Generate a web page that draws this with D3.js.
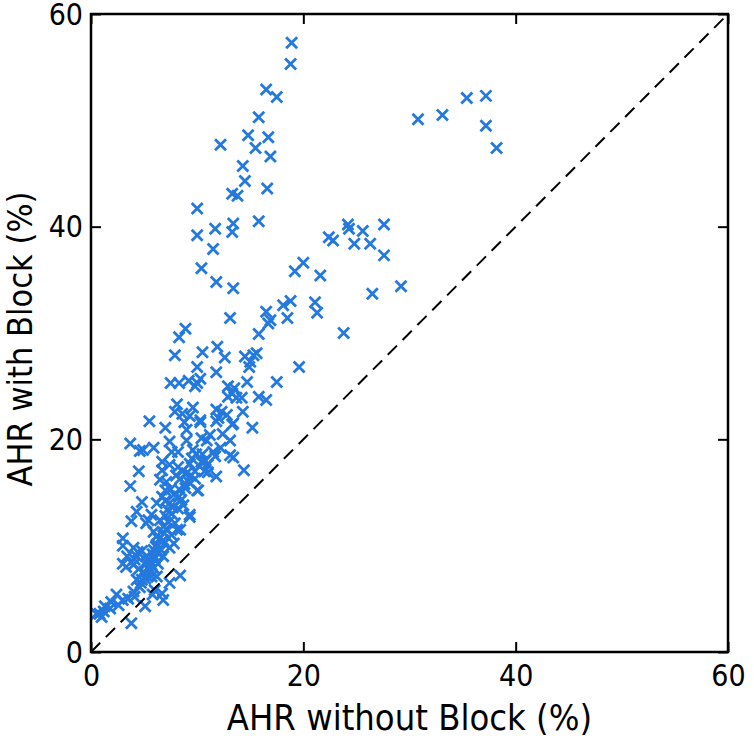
<!DOCTYPE html>
<html>
<head>
<meta charset="utf-8">
<script src="https://cdn.jsdelivr.net/npm/d3@7"></script>
<style>
  body { margin: 0; background: #fff; }
  text { font-family: "Liberation Sans Narrow", "DejaVu Sans Condensed", "Liberation Sans", sans-serif; fill: #000; }
</style>
</head>
<body>
<div id="container"></div>
<script>
// AHR without block (x) vs AHR with block (y), percent
var ahrWithout = [
  18.9, 18.8, 16.5, 17.5, 15.8, 14.8, 16.7, 12.2, 15.5, 16.9, 14.3, 14.5, 13.3, 13.8, 16.6, 10.0, 11.7, 13.4, 13.3, 15.8,
  10.0, 11.5, 10.4, 11.8, 13.4,
  30.8, 33.1, 35.4, 37.2, 37.2, 38.2,
  24.2, 24.3, 27.6, 25.6, 22.4, 22.8, 24.8, 26.3, 27.6, 20.0, 19.2, 21.6, 29.2, 26.5, 18.8, 18.1, 21.1, 21.3, 18.5,
  23.8, 16.5, 16.9, 16.7, 15.8, 13.1, 8.9, 8.3, 7.9, 10.5, 11.9, 12.6, 14.5, 15.3, 15.6, 15.0, 14.9, 19.6, 10.0, 11.8,
  7.5, 8.3, 9.2, 10.0, 9.8, 10.3, 14.7, 17.5, 12.9, 13.5, 13.3, 12.9, 13.7, 14.2, 15.8, 16.5, 8.1, 7.9, 9.6, 8.6,
  9.3, 10.3, 11.8, 12.3, 12.8, 12.0, 14.3, 13.4, 5.5, 7.0, 9.0, 15.2, 8.8, 10.3, 11.8, 13.3,
  3.7, 4.6, 5.9, 7.4, 9.0, 10.4, 10.9, 13.1, 8.2, 9.6, 11.5, 12.2, 11.7, 13.1, 13.4, 7.4, 8.2, 9.3, 10.4, 11.0,
  6.7, 4.5, 14.4, 11.8, 3.7, 6.5, 7.1, 8.4, 9.2, 8.9, 10.0, 7.0, 6.7, 4.8, 6.2, 7.4, 8.2, 4.3, 5.7, 7.6,
  9.3, 3.8, 5.2, 6.5, 7.9, 8.4, 7.1, 5.9, 7.6, 3.0, 3.0, 6.8, 6.2, 7.4, 4.0, 4.8, 3.4, 4.3, 6.3, 6.8,
  3.0, 4.0, 5.4, 5.9, 6.3, 4.9, 4.3, 5.1, 5.7, 8.4, 4.6, 4.0, 3.5, 3.0, 2.4, 1.9, 1.3, 0.8, 1.2, 1.0,
  0.5, 1.8, 2.6, 6.0, 7.4, 6.7, 6.8, 5.1, 3.8, 6.2, 6.1, 6.9, 4.4, 3.3, 4.1, 5.8, 4.1, 4.7, 5.3, 5.0,
  6.7, 7.6, 4.9, 10.7, 8.4, 5.4, 6.8, 8.1, 7.8, 5.9, 9.3, 10.1, 7.8, 8.5, 9.0, 8.0, 9.8, 10.5, 9.5, 7.2,
  7.0, 6.2, 6.6, 5.5, 5.2, 5.7, 7.0, 8.7, 9.8, 11.0,
  4.5, 5.3, 5.8, 6.4, 6.9, 7.3, 7.7, 8.3, 8.8, 9.4, 6.0, 5.6, 4.8, 7.5, 8.6, 9.9, 10.8, 12.4, 11.2
];
var ahrWith = [
  57.3, 55.3, 52.9, 52.2, 50.3, 48.6, 48.4, 47.7, 47.4, 46.6, 45.7, 44.3, 43.1, 42.9, 43.6, 41.7, 39.8, 40.3, 39.5, 40.5,
  39.2, 37.9, 36.1, 34.8, 34.2,
  50.1, 50.5, 52.1, 52.3, 49.5, 47.4,
  40.2, 39.8, 40.2, 39.6, 39.0, 38.7, 38.4, 38.4, 37.3, 36.6, 35.8, 35.4, 34.4, 33.7, 33.0, 32.6, 32.9, 31.9, 31.4,
  30.0, 32.0, 31.2, 30.9, 29.9, 31.4, 30.4, 29.6, 27.9, 28.2, 28.7, 27.7, 27.8, 27.9, 28.1, 27.3, 26.8, 26.8, 26.8, 26.3,
  25.3, 25.3, 25.5, 25.3, 25.0, 25.7, 25.4, 25.4, 25.0, 24.8, 24.3, 24.0, 23.9, 23.9, 24.0, 23.7, 23.3, 22.6, 23.0, 22.4,
  22.2, 21.8, 22.8, 22.6, 22.3, 22.0, 22.6, 21.5, 21.7, 21.1, 20.9, 21.1, 21.6, 21.6, 21.7, 21.4,
  19.6, 18.9, 19.2, 19.8, 19.9, 20.1, 19.9, 19.9, 18.8, 19.0, 18.8, 19.2, 18.4, 18.5, 18.3, 17.6, 17.4, 17.7, 17.9, 17.6,
  17.1, 17.0, 17.1, 16.5, 15.6, 16.2, 16.0, 16.3, 16.0, 15.4, 15.2, 15.2, 14.6, 14.1, 14.0, 14.0, 13.5, 13.2, 12.9, 13.0,
  12.7, 12.3, 12.1, 12.4, 12.1, 11.5, 11.6, 11.3, 11.0, 10.7, 10.0, 10.5, 10.1, 9.8, 9.8, 9.5, 9.0, 9.0, 9.3, 9.0,
  8.3, 8.2, 8.0, 7.9, 8.3, 7.4, 6.8, 6.9, 7.1, 7.2, 6.1, 5.7, 5.0, 4.9, 5.4, 4.7, 4.3, 3.6, 3.8, 3.3,
  3.6, 4.1, 4.4, 5.8, 6.5, 5.5, 4.9, 4.3, 2.7, 7.1, 9.9, 10.2, 9.4, 8.0, 8.7, 5.4, 5.2, 6.5, 7.1, 7.5,
  17.9, 18.8, 19.0, 17.0, 15.2, 12.4, 11.8, 11.5, 10.2, 9.6, 12.9, 15.2, 14.8, 14.3, 16.8, 16.6, 17.0, 18.6, 18.2, 13.4,
  12.8, 10.9, 9.6, 8.6, 9.0, 8.2, 14.2, 13.8, 16.3, 16.9,
  7.8, 8.4, 9.2, 10.6, 11.2, 12.2, 13.6, 14.6, 15.8, 16.6, 8.8, 7.6, 6.8, 15.3, 17.0, 18.6, 18.0, 20.5, 20.4
];
var tickValues = [0, 20, 40, 60];
var xLabel = "AHR without Block (%)";
var yLabel = "AHR with Block (%)";

var points = ahrWithout.map(function(d, i) { return { x: d, y: ahrWith[i] }; });

var width = 754, height = 743;
var margin = { top: 14, right: 26, bottom: 91, left: 91 };
var innerW = width - margin.left - margin.right;
var innerH = height - margin.top - margin.bottom;

var svg = d3.select('#container').append('svg')
  .attr('width', width)
  .attr('height', height);

var g = svg.append('g')
  .attr('transform', 'translate(' + margin.left + ',' + margin.top + ')');

var x = d3.scaleLinear().domain([0, 60]).range([0, innerW]);
var y = d3.scaleLinear().domain([0, 60]).range([innerH, 0]);

// markers
var blue = '#2479de';
g.selectAll('path.pt')
  .data(points)
  .enter().append('path')
  .attr('class', 'pt')
  .attr('d', 'M-5.5,-5.5L5.5,5.5M-5.5,5.5L5.5,-5.5')
  .attr('transform', function(d) { return 'translate(' + x(d.x) + ',' + y(d.y) + ')'; })
  .attr('stroke', blue)
  .attr('stroke-width', 2.8)
  .attr('fill', 'none');

// identity line
var line = d3.line().x(function(d) { return x(d); }).y(function(d) { return y(d); });
g.append('path')
  .attr('d', line([0, 60]))
  .attr('stroke', '#000')
  .attr('stroke-width', 2)
  .attr('stroke-dasharray', '13,8')
  .attr('fill', 'none');

// axes, ticks pointing inward on all four sides
var tickLen = 10;
var fs = 30;
var xb = g.append('g').attr('transform', 'translate(0,' + innerH + ')')
  .call(d3.axisBottom(x).tickValues(tickValues).tickSizeInner(-tickLen).tickSizeOuter(0).tickPadding(13));
var yl = g.append('g')
  .call(d3.axisLeft(y).tickValues(tickValues).tickSizeInner(-tickLen).tickSizeOuter(0).tickPadding(8));
var xt = g.append('g')
  .call(d3.axisTop(x).tickValues(tickValues).tickSizeInner(-tickLen).tickSizeOuter(0).tickFormat(''));
var yr = g.append('g').attr('transform', 'translate(' + innerW + ',0)')
  .call(d3.axisRight(y).tickValues(tickValues).tickSizeInner(-tickLen).tickSizeOuter(0).tickFormat(''));

[xb, yl, xt, yr].forEach(function(a) {
  a.select('.domain').remove();
  a.selectAll('.tick line').attr('stroke', '#000').attr('stroke-width', 2);
  a.selectAll('.tick text').attr('font-size', fs).attr('font-family', null);
});
xb.selectAll('.tick text').attr('dy', '0.71em');
yl.selectAll('.tick text').attr('dy', '0.34em');

g.append('rect')
  .attr('width', innerW)
  .attr('height', innerH)
  .attr('fill', 'none')
  .attr('stroke', '#000')
  .attr('stroke-width', 2.5);

svg.append('text')
  .attr('x', margin.left + innerW / 2)
  .attr('y', 730)
  .attr('text-anchor', 'middle')
  .attr('font-size', 36)
  .text(xLabel);

svg.append('text')
  .attr('transform', 'translate(32,' + (margin.top + innerH / 2 + 6) + ') rotate(-90)')
  .attr('text-anchor', 'middle')
  .attr('font-size', 34)
  .text(yLabel);
</script>
</body>
</html>
